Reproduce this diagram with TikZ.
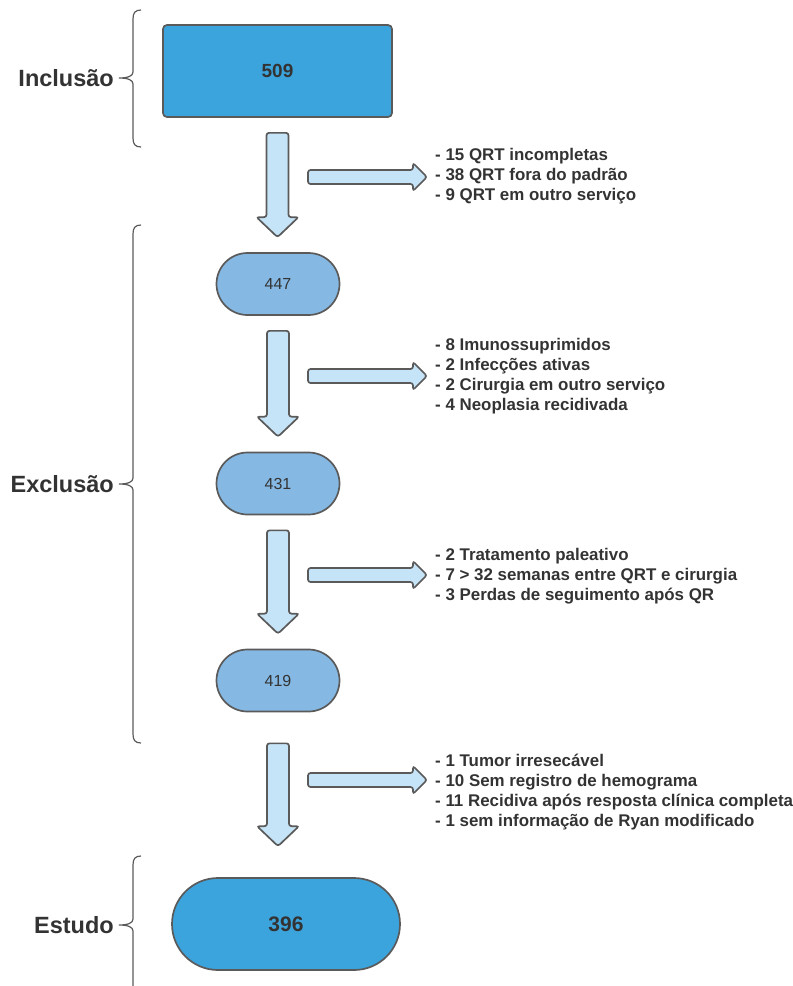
\documentclass[tikz,border=0pt]{standalone}
\usepackage{fontspec}
\setmainfont{Liberation Sans}
\usepackage{xcolor}
\usepackage{tikz}
\usetikzlibrary{positioning,calc}

\definecolor{darkblue}{HTML}{3CA4DC}
\definecolor{midblue}{HTML}{85B9E4}
\definecolor{paleblue}{HTML}{C6E4F7}
\definecolor{edgegray}{HTML}{5A5A5A}
\definecolor{inkgray}{HTML}{333333}

\tikzset{
    mainbox/.style={draw=edgegray, line width=1.7pt, fill=darkblue, text=inkgray,
        rounded corners=4pt, minimum width=229pt, minimum height=92pt,
        font=\bfseries\fontsize{19}{22}\selectfont},
    stagebox/.style={draw=edgegray, line width=1.7pt, fill=midblue, text=inkgray,
        rounded corners=31pt, minimum width=123pt, minimum height=62pt,
        font=\fontsize{16}{19}\selectfont},
    finalbox/.style={draw=edgegray, line width=1.7pt, fill=darkblue, text=inkgray,
        rounded corners=46pt, minimum width=228pt, minimum height=92pt,
        font=\bfseries\fontsize{21}{24}\selectfont},
    blockarrow/.style={draw=edgegray, line width=1.7pt, fill=paleblue, rounded corners=2.5pt},
    exclist/.style={anchor=west, align=left, inner sep=0pt, text=inkgray,
        font=\bfseries\fontsize{16.9}{20}\selectfont},
    phase/.style={anchor=east, inner sep=0pt, text=inkgray,
        font=\bfseries\fontsize{23.5}{26}\selectfont},
    bracket/.style={draw=edgegray, line width=1.2pt}
}

% down arrow between two nodes
\newcommand{\blockdown}[3][15pt]{%
    \draw[blockarrow] let \p1=(#2.south), \p2=(#3.north) in
        (\x1-11pt,\y1-#1) -- (\x1+11pt,\y1-#1) -- (\x1+11pt,\y2+#1+20pt) --
        (\x1+21pt,\y2+#1+20pt) -- (\x1,\y2+#1) -- (\x1-21pt,\y2+#1+20pt) --
        (\x1-11pt,\y2+#1+20pt) -- cycle;}

% side arrow towards a list
\newcommand{\blockright}[2]{%
    \draw[blockarrow] let \p1=(#1), \p2=(#2.west) in
        (\x1,\y1+7pt) -- (\x2-22pt,\y1+7pt) -- (\x2-22pt,\y1+14pt) --
        (\x2-8pt,\y1) -- (\x2-22pt,\y1-14pt) -- (\x2-22pt,\y1-7pt) --
        (\x1,\y1-7pt) -- cycle;}

\begin{document}
\begin{tikzpicture}[x=1pt, y=-1pt]
    \useasboundingbox (0,0) rectangle (793,986);

    % Inclusion
    \node[mainbox] (n509) at (277.5,71) {509};
    \draw[bracket] (141,10) .. controls (135,10) and (133,13) .. (133,19) -- (133,72)
        .. controls (133,76) and (128,78) .. (119,78)
        .. controls (128,78) and (133,80) .. (133,84) -- (133,138)
        .. controls (133,144) and (135,147) .. (141,147);
    \node[phase] (inc) at (114,78) {Inclusão};

    % Exclusion steps
    \node[stagebox] (n447) at (278,284) {447};
    \node[stagebox] (n431) at (278,483.5) {431};
    \node[stagebox] (n419) at (278,680.5) {419};
    \draw[bracket] (141,225) .. controls (135,225) and (133,228) .. (133,234) -- (133,478)
        .. controls (133,482) and (128,484) .. (119,484)
        .. controls (128,484) and (133,486) .. (133,490) -- (133,734)
        .. controls (133,740) and (135,743) .. (141,743);
    \node[phase] (exc) at (114,484) {Exclusão};

    % Study
    \node[finalbox] (n396) at (286,924) {396};
    \draw[bracket] (141,856) .. controls (135,856) and (133,859) .. (133,865) -- (133,919)
        .. controls (133,923) and (128,925) .. (119,925)
        .. controls (128,925) and (133,927) .. (133,931) -- (133,986);
    \node[phase] (est) at (114,925) {Estudo};

    % lists of exclusions
    \node[exclist] (lst1) at (435,176) {- 15 QRT incompletas\\- 38 QRT fora do padrão\\- 9 QRT em outro serviço};
    \node[exclist] (lst2) at (435,376.5) {- 8 Imunossuprimidos\\- 2 Infecções ativas\\- 2 Cirurgia em outro serviço\\- 4 Neoplasia recidivada};
    \node[exclist] (lst3) at (435,576) {- 2 Tratamento paleativo\\- 7 > 32 semanas entre QRT e cirurgia\\- 3 Perdas de seguimento após QR};
    \node[exclist] (lst4) at (435,792) {- 1 Tumor irresecável\\- 10 Sem registro de hemograma\\- 11 Recidiva após resposta clínica completa\\- 1 sem informação de Ryan modificado};

    % arrows
    \blockdown{n509}{n447}
    \blockdown{n447}{n431}
    \blockdown{n431}{n419}
    \blockdown[31pt]{n419}{n396}
    \coordinate (r1) at (308,177);
    \coordinate (r2) at (308,376);
    \coordinate (r3) at (308,575);
    \coordinate (r4) at (308,780);
    \blockright{r1}{lst1}
    \blockright{r2}{lst2}
    \blockright{r3}{lst3}
    \blockright{r4}{lst4}
\end{tikzpicture}
\end{document}
